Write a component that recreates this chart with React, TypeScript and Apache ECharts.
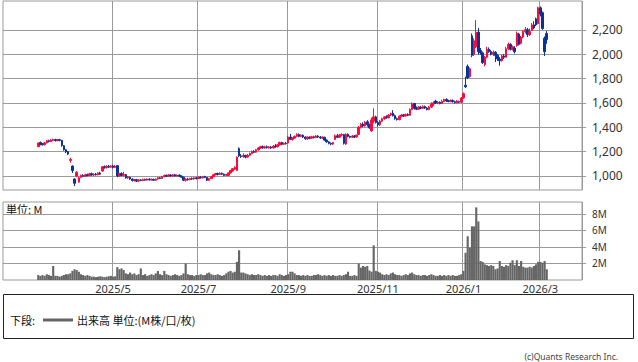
import React, { useEffect, useRef } from 'react';
import * as echarts from 'echarts';

const W = 638;
const H = 362;

// category layout: blank slots before / after the data
const FIRST_SLOT = 16;
const TOTAL_SLOTS = 271;

// month-start slots and their tick labels
const monthSlots = [51, 91, 133, 175, 215, 251];
const monthLabels = ['2025/5', '2025/7', '2025/9', '2025/11', '2026/1', '2026/3'];

const priceTicks = [1000, 1200, 1400, 1600, 1800, 2000, 2200];
const volumeTicks = [2, 4, 6, 8];

// [open, close, low, high], one per trading day from FIRST_SLOT
const ohlc: number[][] = [
  [1240, 1270, 1238, 1275], [1275, 1258, 1252, 1282], [1262, 1256, 1250, 1270], [1256, 1272, 1252, 1280],
  [1272, 1290, 1266, 1296], [1290, 1282, 1275, 1298], [1282, 1295, 1278, 1302], [1292, 1300, 1285, 1306],
  [1300, 1290, 1283, 1305], [1290, 1298, 1285, 1303], [1298, 1292, 1285, 1304], [1292, 1250, 1240, 1296],
  [1248, 1215, 1208, 1254], [1215, 1198, 1188, 1222], [1198, 1180, 1172, 1206], [1128, 1136, 1110, 1150],
  [1082, 1045, 1025, 1086], [975, 940, 918, 980], [1000, 1030, 990, 1040], [950, 985, 944, 995],
  [990, 1005, 985, 1012], [1005, 998, 990, 1015], [998, 1010, 993, 1018], [1010, 1004, 998, 1020],
  [1004, 1018, 1000, 1025], [1018, 1008, 1002, 1028], [1008, 1015, 1000, 1022], [1015, 1010, 1003, 1025],
  [1010, 1025, 1005, 1030], [1025, 1015, 1010, 1035], [1040, 1075, 1035, 1082], [1075, 1068, 1060, 1086],
  [1068, 1080, 1062, 1088], [1080, 1072, 1065, 1090], [1072, 1082, 1068, 1088], [1082, 1070, 1062, 1092],
  [1070, 1080, 1065, 1090], [1085, 1000, 990, 1090],
  [1000, 1020, 995, 1025], [1020, 1005, 998, 1030], [1005, 1012, 995, 1035], [1012, 985, 978, 1016],
  [985, 992, 975, 1000],
  [990, 975, 968, 995], [975, 962, 955, 980], [962, 970, 955, 975], [970, 958, 950, 975],
  [958, 968, 952, 972], [968, 962, 958, 975], [962, 972, 958, 978], [972, 966, 960, 978],
  [966, 975, 962, 980], [975, 968, 962, 980], [968, 972, 963, 978], [972, 965, 960, 978],
  [965, 975, 962, 980], [975, 985, 970, 990], [985, 980, 975, 992], [980, 995, 978, 1000],
  [995, 1005, 990, 1010], [1005, 998, 992, 1012], [998, 1008, 995, 1015], [1008, 1000, 995, 1015],
  [1000, 1010, 995, 1015], [1010, 1000, 995, 1018], [1000, 1008, 996, 1012], [1008, 998, 992, 1012],
  [998, 990, 985, 1005], [990, 965, 958, 995], [965, 975, 955, 980], [975, 970, 962, 985],
  [970, 980, 965, 985], [980, 975, 968, 988], [975, 985, 970, 990], [985, 978, 972, 992],
  [978, 990, 975, 995], [990, 985, 978, 998], [985, 995, 980, 1000], [995, 988, 982, 1002],
  [988, 965, 958, 992], [965, 978, 960, 985], [978, 995, 975, 1000], [995, 1010, 990, 1015],
  [1010, 1020, 1005, 1025], [1020, 1012, 1005, 1028], [1012, 1022, 1008, 1030], [1022, 1015, 1008, 1028],
  [1015, 1005, 998, 1020], [1005, 1012, 1000, 1018], [1005, 1025, 1000, 1030], [1025, 1045, 1020, 1050],
  [1040, 1060, 1035, 1065], [1055, 1070, 1050, 1080], [1045, 1155, 1040, 1160], [1225, 1165, 1155, 1235],
  [1165, 1160, 1148, 1180], [1160, 1168, 1150, 1185], [1168, 1155, 1145, 1175], [1155, 1170, 1150, 1180],
  [1170, 1185, 1165, 1192], [1185, 1200, 1178, 1208], [1200, 1195, 1188, 1212], [1195, 1215, 1190, 1222],
  [1215, 1230, 1208, 1238], [1230, 1240, 1222, 1248], [1240, 1230, 1225, 1250], [1230, 1240, 1225, 1248],
  [1240, 1232, 1225, 1250], [1232, 1238, 1225, 1245], [1238, 1230, 1222, 1245], [1230, 1245, 1225, 1255],
  [1245, 1240, 1232, 1262], [1240, 1255, 1235, 1262], [1255, 1275, 1250, 1282], [1275, 1260, 1252, 1280],
  [1260, 1268, 1255, 1275], [1268, 1265, 1258, 1280],
  [1270, 1320, 1265, 1330], [1320, 1300, 1295, 1345], [1300, 1310, 1290, 1318], [1310, 1325, 1305, 1332],
  [1325, 1340, 1318, 1350], [1340, 1325, 1318, 1350], [1325, 1335, 1318, 1342], [1335, 1320, 1312, 1340],
  [1320, 1305, 1298, 1325], [1305, 1318, 1298, 1325], [1318, 1310, 1302, 1325], [1310, 1322, 1305, 1330],
  [1322, 1315, 1308, 1330], [1315, 1328, 1310, 1335], [1328, 1320, 1312, 1335], [1320, 1312, 1305, 1328],
  [1312, 1318, 1305, 1325], [1318, 1295, 1288, 1322], [1295, 1280, 1272, 1300], [1280, 1268, 1260, 1285],
  [1268, 1262, 1252, 1275], [1262, 1275, 1255, 1280], [1300, 1330, 1295, 1340], [1330, 1318, 1310, 1345],
  [1318, 1335, 1312, 1345], [1335, 1340, 1325, 1350], [1340, 1268, 1258, 1345], [1262, 1342, 1255, 1350],
  [1342, 1325, 1318, 1350], [1325, 1318, 1310, 1332], [1318, 1328, 1312, 1335], [1328, 1320, 1312, 1335],
  [1320, 1335, 1315, 1340], [1340, 1400, 1335, 1410], [1400, 1425, 1390, 1435], [1425, 1410, 1400, 1440],
  [1410, 1440, 1405, 1450], [1445, 1420, 1405, 1458], [1420, 1395, 1388, 1430], [1370, 1460, 1362, 1480],
  [1450, 1485, 1432, 1555], [1485, 1440, 1430, 1495],
  [1440, 1420, 1405, 1450], [1420, 1450, 1410, 1460], [1450, 1470, 1442, 1478], [1470, 1485, 1462, 1492],
  [1485, 1478, 1470, 1498], [1478, 1500, 1472, 1508], [1500, 1512, 1492, 1520], [1515, 1495, 1488, 1540],
  [1495, 1470, 1462, 1505], [1470, 1462, 1455, 1480], [1462, 1490, 1458, 1498], [1490, 1500, 1482, 1508],
  [1500, 1492, 1485, 1510], [1492, 1505, 1488, 1512], [1505, 1498, 1490, 1515], [1498, 1545, 1495, 1555],
  [1545, 1590, 1540, 1605], [1595, 1555, 1545, 1600], [1555, 1548, 1540, 1570], [1548, 1565, 1542, 1575],
  [1565, 1555, 1548, 1575], [1555, 1570, 1550, 1580], [1570, 1558, 1550, 1578], [1558, 1545, 1538, 1565],
  [1545, 1565, 1540, 1575], [1565, 1590, 1560, 1605], [1590, 1600, 1575, 1612], [1615, 1598, 1590, 1625],
  [1598, 1605, 1590, 1615], [1605, 1595, 1588, 1612], [1595, 1612, 1590, 1625], [1612, 1628, 1605, 1635],
  [1628, 1615, 1608, 1638], [1615, 1612, 1605, 1625], [1612, 1620, 1605, 1628], [1620, 1610, 1602, 1628],
  [1610, 1602, 1595, 1618], [1602, 1615, 1595, 1622], [1610, 1605, 1598, 1618], [1605, 1640, 1600, 1648],
  [1640, 1675, 1635, 1685], [1745, 1732, 1722, 1815], [1900, 1805, 1795, 1915], [1815, 1880, 1808, 1890],
  [2150, 1990, 1975, 2170], [2000, 2110, 1985, 2130], [2060, 2180, 2050, 2280], [2180, 2020, 1995, 2215],
  [2030, 2010, 1995, 2050], [2010, 1930, 1920, 2020], [1915, 1975, 1900, 1985], [1975, 2040, 1965, 2060],
  [2040, 2020, 2010, 2055], [2020, 2000, 1990, 2035], [2000, 2015, 1985, 2030], [2015, 1990, 1935, 2025],
  [1990, 1960, 1945, 2000], [1960, 1945, 1905, 1975], [1945, 1985, 1940, 1995], [1985, 1975, 1960, 2000],
  [1975, 2045, 1970, 2060], [2045, 2080, 2035, 2095], [2080, 2040, 2030, 2090], [2040, 2060, 2030, 2070],
  [2050, 2020, 2005, 2065], [2070, 2170, 2060, 2185], [2165, 2080, 2070, 2175], [2090, 2140, 2080, 2150],
  [2140, 2185, 2130, 2195], [2185, 2200, 2170, 2222], [2200, 2160, 2140, 2215], [2160, 2185, 2150, 2210],
  [2195, 2240, 2190, 2255], [2240, 2215, 2205, 2270], [2290, 2240, 2230, 2300], [2250, 2380, 2245, 2390],
  [2380, 2330, 2310, 2392], [2340, 2210, 2200, 2350], [2130, 2020, 1985, 2145], [2170, 2120, 2085, 2190],
];

// volume in millions, one per trading day from FIRST_SLOT
const volumes: number[] = [
  0.6, 0.5, 0.6, 0.5, 0.7, 0.6, 0.5, 1.7, 0.5, 0.5, 0.4, 0.5, 0.6, 0.7, 0.7, 0.8,
  1.1, 1.3, 1.2, 1.0, 0.7, 0.6, 0.5, 0.6, 0.5, 0.4, 0.4, 0.35, 0.4, 0.45, 0.4, 0.35,
  0.4, 0.45, 0.5, 0.4, 0.45, 1.55, 1.3, 1.4, 1.2, 0.8, 0.7, 0.9, 0.7, 0.8, 0.6, 0.7,
  1.4, 0.6, 0.7, 0.5, 0.6, 0.7, 0.6, 0.8, 1.1, 0.7, 0.6, 1.1, 0.7, 0.6, 0.5, 0.6,
  0.7, 0.6, 0.5, 0.6, 0.8, 2.0, 0.7, 0.6, 0.6, 0.5, 0.6, 0.6, 0.7, 0.6, 0.6, 0.8,
  0.9, 0.7, 0.6, 0.6, 0.7, 0.6, 0.5, 0.6, 0.8, 1.0, 1.1, 0.9, 1.0, 2.2, 3.6, 0.9,
  0.9, 0.8, 0.7, 0.6, 0.7, 0.6, 0.6, 0.7, 0.6, 0.5, 0.6, 0.5, 0.6, 0.5, 0.6, 0.6,
  0.5, 0.7, 0.6, 0.5, 0.6, 0.7, 1.0, 1.0, 0.8, 0.6, 0.6, 0.5, 0.6, 0.5, 0.6, 0.5,
  0.5, 0.6, 0.6, 0.7, 0.6, 0.5, 0.6, 0.5, 0.6, 0.5, 0.6, 0.5, 0.5, 0.6, 0.5, 0.6,
  0.7, 1.0, 0.5, 0.5, 0.6, 0.5, 2.0, 1.5, 1.7, 1.6, 1.7, 1.15, 1.0, 4.2, 1.1, 1.0,
  0.9, 0.7, 0.6, 0.7, 0.6, 0.8, 0.9, 0.7, 0.6, 0.6, 0.5, 0.6, 0.7, 0.6, 0.8, 0.9,
  0.7, 0.6, 0.6, 0.5, 0.6, 0.6, 0.5, 0.6, 0.7, 0.6, 0.5, 0.5, 0.6, 0.5, 0.6, 0.5,
  0.6, 0.5, 0.6, 0.5, 0.5, 0.6, 0.7, 1.1, 3.3, 5.3, 3.9, 6.5, 6.5, 8.8, 7.1, 2.3,
  2.2, 1.9, 1.8, 1.7, 1.8, 1.7, 1.3, 1.4, 2.3, 1.7, 1.6, 1.8, 1.7, 2.1, 2.4, 1.8,
  2.4, 1.7, 2.3, 1.6, 1.5, 1.5, 1.6, 1.5, 1.7, 1.9, 2.2, 2.2, 2.1, 2.3, 1.3,
];

const UP = '#ff0a3c';
const DOWN = '#0a3398';
const GRID_LINE = '#9a9a9a';
const TEXT = '#333333';
const LATIN = '"Noto Sans", "DejaVu Sans", sans-serif';
const CJK = '"Noto Sans CJK JP", "Noto Sans", sans-serif';

export default function App() {
  const ref = useRef<HTMLDivElement>(null);

  useEffect(() => {
    if (!ref.current) return;
    const chart = echarts.init(ref.current, null, { renderer: 'svg', width: W, height: H });

    const categories = Array.from({ length: TOTAL_SLOTS }, (_, i) => 's' + i);
    const labelAt: Record<number, string> = {};
    monthSlots.forEach((s, i) => { labelAt[s] = monthLabels[i]; });
    const isMonth = (i: number) => monthSlots.indexOf(i) >= 0;

    const candleData = ohlc.map((d, i) => [i + FIRST_SLOT, d[0], d[1], d[2], d[3]]);
    const volData = volumes.map((v, i) => [i + FIRST_SLOT, v]);

    const xBase = {
      type: 'category',
      data: categories,
      boundaryGap: true,
      axisLine: { show: false },
      axisTick: { show: false },
      splitLine: { show: true, interval: (i: number) => isMonth(i), lineStyle: { color: GRID_LINE, width: 1 } },
    };

    const option: any = {
      animation: false,
      backgroundColor: '#ffffff',
      grid: [
        { left: 3, top: 1, width: 579, height: 189, show: true, borderColor: GRID_LINE, borderWidth: 1 },
        { left: 3, top: 202, width: 579, height: 78, show: true, borderColor: GRID_LINE, borderWidth: 1 },
      ],
      xAxis: [
        { ...xBase, gridIndex: 0, axisLabel: { show: false } },
        {
          ...xBase,
          gridIndex: 1,
          axisLabel: {
            show: true,
            interval: (i: number) => isMonth(i),
            formatter: (_v: string, i: number) => labelAt[i] || '',
            color: TEXT,
            fontSize: 11,
            fontFamily: LATIN,
            margin: 3,
          },
        },
      ],
      yAxis: [
        {
          type: 'value',
          gridIndex: 0,
          position: 'right',
          min: 885,
          max: 2436,
          axisLine: { show: false },
          axisTick: { show: true, length: 4, customValues: priceTicks, lineStyle: { color: GRID_LINE } },
          axisLabel: {
            customValues: priceTicks,
            formatter: (v: number) => v.toLocaleString('en-US'),
            color: TEXT,
            fontSize: 12,
            fontFamily: LATIN,
            margin: 10,
          },
          splitLine: { show: true, lineStyle: { color: GRID_LINE, width: 1 } },
        },
        {
          type: 'value',
          gridIndex: 1,
          position: 'right',
          min: 0,
          max: 9.45,
          axisLine: { show: false },
          axisTick: { show: true, length: 4, customValues: volumeTicks, lineStyle: { color: GRID_LINE } },
          axisLabel: {
            customValues: volumeTicks,
            formatter: (v: number) => v + 'M',
            color: TEXT,
            fontSize: 10,
            fontFamily: LATIN,
            margin: 10,
          },
          splitLine: { show: true, lineStyle: { color: GRID_LINE, width: 1 } },
        },
      ],
      series: [
        {
          type: 'candlestick',
          xAxisIndex: 0,
          yAxisIndex: 0,
          data: candleData,
          encode: { x: 0, y: [1, 2, 3, 4] },
          barWidth: 2,
          itemStyle: { color: UP, color0: DOWN, borderColor: UP, borderColor0: DOWN, borderWidth: 1 },
        },
        {
          type: 'bar',
          xAxisIndex: 1,
          yAxisIndex: 1,
          data: volData,
          encode: { x: 0, y: 1 },
          barCategoryGap: '0%',
          itemStyle: { color: '#666666' },
        },
      ],
      graphic: [
        { type: 'text', left: 6, top: 203, style: { text: '単位: M', fill: '#111', font: `11px ${CJK}` } },
        { type: 'rect', shape: { x: 3.5, y: 294.5, width: 630, height: 44 }, style: { fill: 'none', stroke: '#222', lineWidth: 1 } },
        { type: 'text', x: 10, y: 320, style: { text: '下段:', fill: '#111', font: `11px ${CJK}`, verticalAlign: 'middle' } },
        { type: 'line', shape: { x1: 43, y1: 320, x2: 73, y2: 320 }, style: { stroke: '#666', lineWidth: 3 } },
        { type: 'text', x: 77, y: 320, style: { text: '出来高 単位:(M株/口/枚)', fill: '#111', font: `11px ${CJK}`, verticalAlign: 'middle' } },
        { type: 'text', x: 618, y: 356, style: { text: '(c)Quants Research Inc.', fill: '#444', font: `8.5px ${LATIN}`, align: 'right', verticalAlign: 'middle' } },
      ],
    };

    chart.setOption(option);
    return () => chart.dispose();
  }, []);

  return <div ref={ref} style={{ position: 'absolute', left: 0, top: 0, width: W, height: H }} />;
}
